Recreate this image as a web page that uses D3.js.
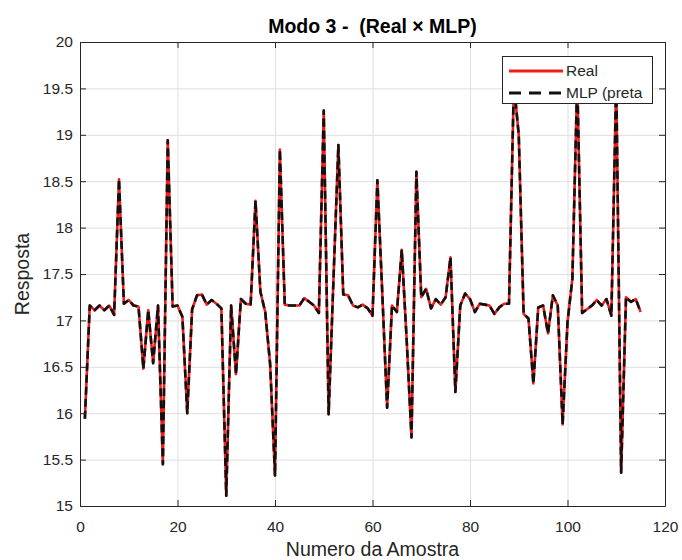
<!DOCTYPE html>
<html>
<head>
<meta charset="utf-8">
<script src="https://cdn.jsdelivr.net/npm/d3@7"></script>
<style>
  body { margin: 0; background: #ffffff; }
  text { font-family: "Liberation Sans", Arial, Helvetica, sans-serif; }
</style>
</head>
<body>
<svg id="chart" width="682" height="560"></svg>
<script>
// ---------------- DATA ----------------
const sampleNumbers = d3.range(1, 116); // amostras 1..115

const realValues = [
  15.94, 17.16, 17.11, 17.16, 17.11, 17.16, 17.06, 18.52, 17.18, 17.22,
  17.16, 17.15, 16.48, 17.11, 16.54, 17.16, 15.45, 18.94, 17.15, 17.16,
  17.04, 16.00, 17.12, 17.27, 17.28, 17.17, 17.22, 17.18, 17.13, 15.11,
  17.16, 16.42, 17.23, 17.18, 17.17, 18.29, 17.31, 17.09, 16.53, 15.33,
  18.84, 17.17, 17.16, 17.16, 17.16, 17.24, 17.20, 17.16, 17.08, 19.26,
  15.99, 17.45, 18.89, 17.28, 17.27, 17.16, 17.14, 17.17, 17.13, 17.05,
  18.51, 17.30, 16.06, 17.16, 17.09, 17.76, 16.80, 15.74, 18.60, 17.25,
  17.34, 17.13, 17.23, 17.17, 17.25, 17.68, 16.23, 17.16, 17.29, 17.23,
  17.09, 17.18, 17.17, 17.16, 17.07, 17.14, 17.18, 17.18, 19.55, 19.00,
  17.07, 17.02, 16.32, 17.14, 17.16, 16.86, 17.27, 17.16, 15.88, 16.98,
  17.45, 19.60, 17.08, 17.12, 17.16, 17.22, 17.16, 17.23, 17.05, 19.60,
  15.36, 17.25, 17.20, 17.23, 17.09
];

const mlpValues = [
  15.94, 17.16, 17.11, 17.16, 17.11, 17.16, 17.06, 18.52, 17.18, 17.22,
  17.16, 17.15, 16.48, 17.11, 16.54, 17.16, 15.45, 18.94, 17.15, 17.16,
  17.04, 16.00, 17.12, 17.27, 17.28, 17.17, 17.22, 17.18, 17.13, 15.11,
  17.16, 16.42, 17.23, 17.18, 17.17, 18.29, 17.31, 17.09, 16.53, 15.33,
  18.84, 17.17, 17.16, 17.16, 17.16, 17.24, 17.20, 17.16, 17.08, 19.26,
  15.99, 17.45, 18.89, 17.28, 17.27, 17.16, 17.14, 17.17, 17.13, 17.05,
  18.51, 17.30, 16.06, 17.16, 17.09, 17.76, 16.80, 15.74, 18.60, 17.25,
  17.34, 17.13, 17.23, 17.17, 17.25, 17.68, 16.23, 17.16, 17.29, 17.23,
  17.09, 17.18, 17.17, 17.16, 17.07, 17.14, 17.18, 17.18, 19.55, 19.00,
  17.07, 17.02, 16.32, 17.14, 17.16, 16.86, 17.27, 17.16, 15.88, 16.98,
  17.45, 19.60, 17.08, 17.12, 17.16, 17.22, 17.16, 17.23, 17.05, 19.60,
  15.36, 17.25, 17.20, 17.23, 17.09
];

const xTicks = [0, 20, 40, 60, 80, 100, 120];
const yTicks = [15, 15.5, 16, 16.5, 17, 17.5, 18, 18.5, 19, 19.5, 20];
const yTickLabels = ["15", "15.5", "16", "16.5", "17", "17.5", "18", "18.5", "19", "19.5", "20"];
const seriesNames = ["Real", "MLP (preta"];
const titleText = "Modo 3 -  (Real × MLP)";
const xLabelText = "Numero da Amostra";
const yLabelText = "Resposta";

// ---------------- LAYOUT ----------------
const svg = d3.select("#chart");
const plotLeft = 80, plotTop = 42, W = 585, H = 464;
const axisColor = "#262626";
const gridColor = "#dfdfdf";
const redColor = "#f01d1d";
const blackColor = "#111111";

const x = d3.scaleLinear().domain([0, 120]).range([0, W]);
const y = d3.scaleLinear().domain([15, 20]).range([H, 0]);

const g = svg.append("g").attr("transform", `translate(${plotLeft},${plotTop})`);

// grid
g.append("g")
  .attr("transform", `translate(0,${H})`)
  .call(d3.axisBottom(x).tickValues(xTicks).tickSize(-H).tickFormat(""))
  .call(s => s.select(".domain").remove())
  .call(s => s.selectAll("line").attr("stroke", gridColor).attr("stroke-width", 1));
g.append("g")
  .call(d3.axisLeft(y).tickValues(yTicks).tickSize(-W).tickFormat(""))
  .call(s => s.select(".domain").remove())
  .call(s => s.selectAll("line").attr("stroke", gridColor).attr("stroke-width", 1));

// clip
svg.append("defs").append("clipPath").attr("id", "plotclip")
  .append("rect").attr("x", 0).attr("y", 0).attr("width", W).attr("height", H);

const realData = sampleNumbers.map((n, i) => [n, realValues[i]]);
const mlpData = sampleNumbers.map((n, i) => [n, mlpValues[i]]);
const line = d3.line().x(d => x(d[0])).y(d => y(d[1]));

const plot = g.append("g").attr("clip-path", "url(#plotclip)");
plot.append("path").datum(realData)
  .attr("d", line).attr("fill", "none")
  .attr("stroke", redColor).attr("stroke-width", 2.6)
  .attr("stroke-linejoin", "round");
plot.append("path").datum(mlpData)
  .attr("d", line).attr("fill", "none")
  .attr("stroke", blackColor).attr("stroke-width", 2.6)
  .attr("stroke-dasharray", "8,4")
  .attr("stroke-linejoin", "round");

// axes (ticks inside on all four sides)
const tickLen = 6;
function styleAxis(s) {
  s.selectAll("line").attr("stroke", axisColor);
  s.select(".domain").attr("stroke", axisColor).attr("stroke-width", 1);
  s.selectAll("text").attr("fill", axisColor).style("font-size", "15.5px")
    .style("font-family", '"Liberation Sans", Arial, sans-serif');
}
g.append("g").attr("transform", `translate(0,${H})`)
  .call(d3.axisBottom(x).tickValues(xTicks).tickSizeInner(-tickLen).tickSizeOuter(0).tickPadding(15).tickFormat(d3.format("d")))
  .call(styleAxis);
g.append("g")
  .call(d3.axisLeft(y).tickValues(yTicks).tickSizeInner(-tickLen).tickSizeOuter(0).tickPadding(7)
    .tickFormat((d, i) => yTickLabels[i]))
  .call(styleAxis);
g.append("g")
  .call(d3.axisTop(x).tickValues(xTicks).tickSizeInner(-tickLen).tickSizeOuter(0).tickFormat(""))
  .call(styleAxis);
g.append("g").attr("transform", `translate(${W},0)`)
  .call(d3.axisRight(y).tickValues(yTicks).tickSizeInner(-tickLen).tickSizeOuter(0).tickFormat(""))
  .call(styleAxis);

// legend
const lg = svg.append("g");
lg.append("rect").attr("x", 502.5).attr("y", 56.5).attr("width", 150).attr("height", 47)
  .attr("fill", "#ffffff").attr("stroke", axisColor).attr("stroke-width", 1);
const legendRows = [
  { name: seriesNames[0], color: redColor, dash: null, cy: 71 },
  { name: seriesNames[1], color: blackColor, dash: "12,8", cy: 93 }
];
legendRows.forEach(r => {
  lg.append("line").attr("x1", 509).attr("x2", 563).attr("y1", r.cy).attr("y2", r.cy)
    .attr("stroke", r.color).attr("stroke-width", 2.8)
    .attr("stroke-dasharray", r.dash);
  lg.append("text").attr("x", 566).attr("y", r.cy).attr("dy", "0.35em")
    .attr("fill", axisColor).style("font-size", "15.5px").text(r.name);
});

// title & labels
svg.append("text").attr("x", plotLeft + W / 2).attr("y", 32.5)
  .attr("text-anchor", "middle").attr("fill", "#000")
  .attr("xml:space", "preserve").style("white-space", "pre")
  .style("font-size", "19.5px").style("font-weight", "bold").text(titleText);
svg.append("text").attr("x", plotLeft + W / 2).attr("y", 555.5)
  .attr("text-anchor", "middle").attr("fill", axisColor)
  .style("font-size", "19.5px").text(xLabelText);
svg.append("text").attr("transform", `translate(29,${plotTop + H / 2}) rotate(-90)`)
  .attr("text-anchor", "middle").attr("fill", axisColor)
  .style("font-size", "19.5px").text(yLabelText);
</script>
</body>
</html>
